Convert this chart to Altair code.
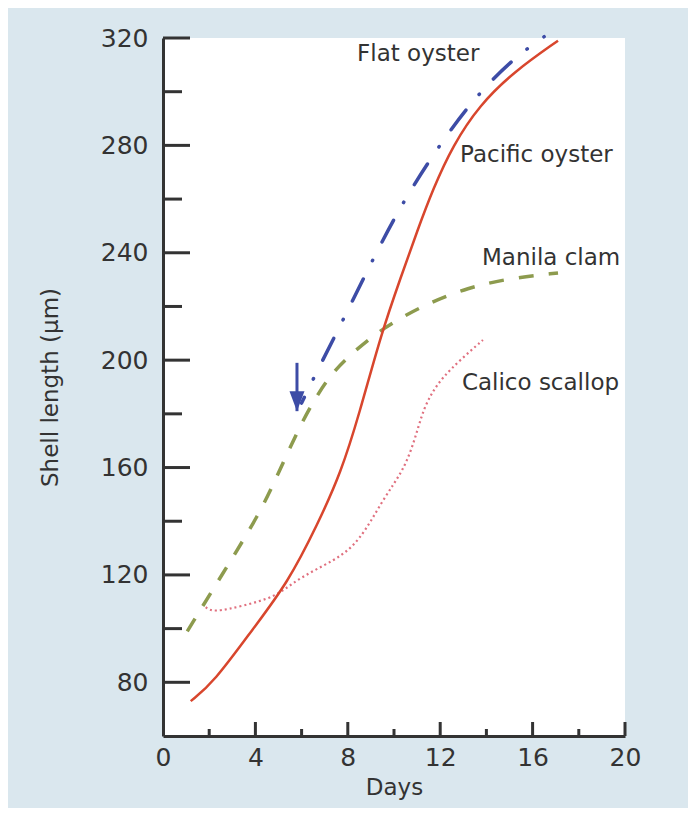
import altair as alt
import pandas as pd

# ---- data ----
pacific_day = [1.2, 2.2, 3.9, 5.4, 6.7, 7.7, 8.5, 9.45, 10.3, 11.0, 11.7, 12.55, 13.7, 15.2, 17.1]
pacific_len = [73, 80, 100, 117, 139, 158, 180, 210, 231, 248, 264, 280, 295, 307.5, 319]

manila_day = [1.05, 2.55, 4.2, 5.0, 5.9, 6.6, 7.3, 8.1, 9.5, 11.4, 13.2, 15.0, 17.1]
manila_len = [99, 120, 143, 158, 175, 186, 195, 202, 212, 221, 227, 230.5, 232.5]

flat_day = [6.0, 6.5, 7.8, 9.05, 10.26, 11.64, 13.3, 15.1, 16.5]
flat_len = [184, 193, 215, 237, 257, 276, 296, 312, 320.5]

calico_day = [1.85, 2.15, 3.5, 4.9, 5.6, 6.5, 7.4, 8.0, 8.5, 9.0, 9.5, 10.0, 10.4,
              10.75, 11.05, 11.3, 11.65, 12.1, 12.85, 13.85]
calico_len = [108, 106, 108.5, 112, 117, 121.5, 125.5, 129, 133.5, 140, 147.5, 154,
              159.5, 166.5, 175, 182, 188, 193.5, 200, 207.5]

label_text = ["Flat oyster", "Pacific oyster", "Manila clam", "Calico scallop"]
label_day = [8.4, 12.86, 13.81, 12.94]
label_len = [311.4, 273.8, 235.4, 188.9]

arrow_day = [5.8]
arrow_top = [199]
arrow_tip = [181]

y_major = [80, 120, 160, 200, 240, 280, 320]
y_minor = [100, 140, 180, 220, 260, 300]
x_major = [4, 8, 12, 16, 20]
x_minor = [2, 6, 10, 14, 18]
x_labels = [0, 4, 8, 12, 16, 20]

# ---- styling ----
FONT = "DejaVu Sans"
INK = "#333333"
BLUE = "#3d4ca6"
W, H = 462, 698

x_scale = alt.Scale(domain=[0, 20], nice=False, zero=False)
y_scale = alt.Scale(domain=[60, 320], nice=False, zero=False)

X = alt.X("day:Q", scale=x_scale, axis=alt.Axis(
    values=x_labels, ticks=False, grid=False, domain=True, domainColor=INK, domainWidth=3,
    labelFont=FONT, labelFontSize=25, labelColor=INK, labelPadding=9, labelFlush=False,
    labelOverlap=False, title="Days", titleFont=FONT, titleFontSize=23,
    titleFontWeight="normal", titleColor=INK, titlePadding=6))
Y = alt.Y("len:Q", scale=y_scale, axis=alt.Axis(
    values=y_major, ticks=False, grid=False, domain=True, domainColor=INK, domainWidth=3,
    labelFont=FONT, labelFontSize=25, labelColor=INK, labelPadding=15, labelFlush=False,
    labelOverlap=False, title="Shell length (µm)", titleFont=FONT, titleFontSize=23,
    titleFontWeight="normal", titleColor=INK, titlePadding=38))


def series(days, lens, **mark):
    df = pd.DataFrame({"day": days, "len": lens})
    return alt.Chart(df).mark_line(interpolate="basis", **mark).encode(x=X, y=Y)


manila = series(manila_day, manila_len, color="#8d9b4e", strokeWidth=3.5, strokeDash=[15, 15])
calico = series(calico_day, calico_len, color="#e0707f", strokeWidth=2.2, strokeDash=[2, 3])
pacific = series(pacific_day, pacific_len, color="#d8462d", strokeWidth=2.5)
flat = series(flat_day, flat_len, color=BLUE, strokeWidth=3.5, strokeCap="round",
              strokeDash=[24.5, 20.5, 0.5, 20.5], strokeDashOffset=18)

ytick_major = alt.Chart(pd.DataFrame({"len": y_major})).mark_rule(
    color=INK, strokeWidth=3).encode(y=Y, x=alt.value(0), x2=alt.value(27))
ytick_minor = alt.Chart(pd.DataFrame({"len": y_minor})).mark_rule(
    color=INK, strokeWidth=3).encode(y=Y, x=alt.value(0), x2=alt.value(19))
xtick_major = alt.Chart(pd.DataFrame({"day": x_major})).mark_rule(
    color=INK, strokeWidth=3).encode(x=X, y=alt.value(H), y2=alt.value(H - 14))
xtick_minor = alt.Chart(pd.DataFrame({"day": x_minor})).mark_rule(
    color=INK, strokeWidth=3).encode(x=X, y=alt.value(H), y2=alt.value(H - 7))

shaft_df = pd.DataFrame({"day": arrow_day, "len": arrow_top, "tip": arrow_tip})
arrow_shaft = alt.Chart(shaft_df).mark_rule(color=BLUE, strokeWidth=3).encode(
    x=X, y=Y, y2=alt.Y2("tip:Q"))
head_df = pd.DataFrame({"day": arrow_day, "len": arrow_tip})
arrow_head = alt.Chart(head_df).mark_point(
    shape="M-0.75,-1 L0.75,-1 L0,1 Z", size=400, filled=True, opacity=1,
    color=BLUE, yOffset=-10).encode(x=X, y=Y)

labels = alt.Chart(pd.DataFrame({"day": label_day, "len": label_len, "txt": label_text})).mark_text(
    align="left", baseline="alphabetic", font=FONT, fontSize=23, color=INK).encode(
    x=X, y=Y, text="txt:N")

chart = alt.layer(
    manila, calico, pacific, flat,
    ytick_major, ytick_minor, xtick_major, xtick_minor,
    arrow_shaft, arrow_head, labels,
).properties(
    width=W, height=H,
    autosize=alt.AutoSizeParams(type="none"),
    padding={"left": 155, "top": 30, "right": 63, "bottom": 72},
    background="#dae7ee",
).configure_view(fill="white", strokeWidth=0)

chart.save("out.html", embed_options={"renderer": "svg", "actions": False})
